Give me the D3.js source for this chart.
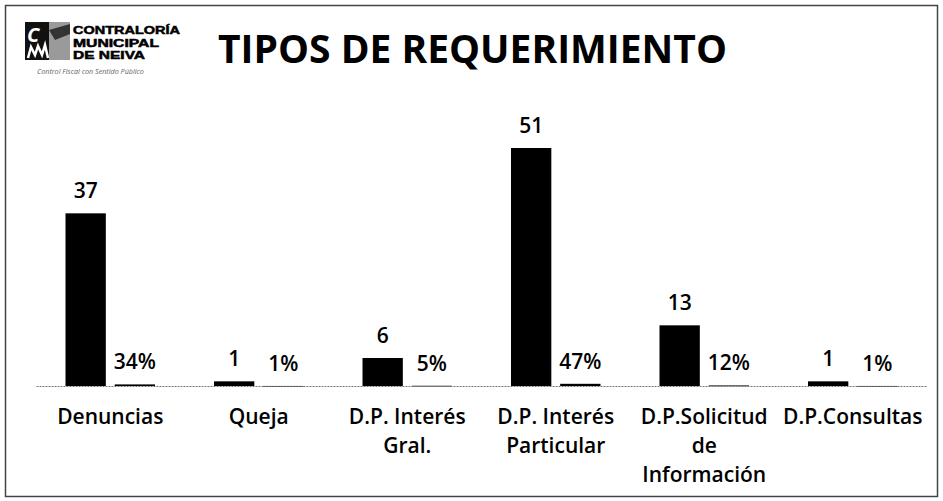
<!DOCTYPE html>
<html>
<head>
<meta charset="utf-8">
<script src="https://cdn.jsdelivr.net/npm/d3@7"></script>
<style>
  body { margin: 0; background: #fff; }
  svg { display: block; }
</style>
</head>
<body>
<script>
// data
const categories = [
  ["Denuncias"],
  ["Queja"],
  ["D.P. Interés", "Gral."],
  ["D.P. Interés", "Particular"],
  ["D.P.Solicitud", "de", "Información"],
  ["D.P.Consultas"]
];
const counts = [37, 1, 6, 51, 13, 1];
const shares = [0.34, 0.01, 0.05, 0.47, 0.12, 0.01];
const series = ["count", "share"];

const w = 943;
const h = 501;
const font = "'Open Sans', 'DejaVu Sans', sans-serif";

const svg = d3.select("body").append("svg").attr("width", w).attr("height", h);

svg.append("rect").attr("width", w).attr("height", h).attr("fill", "#fff");

// frame
svg
  .append("rect")
  .attr("x", 5.5)
  .attr("y", 5.5)
  .attr("width", 932)
  .attr("height", 491)
  .attr("fill", "none")
  .attr("stroke", "#444")
  .attr("stroke-width", 1.5);

// logo
const logo = svg.append("g");
logo.append("rect").attr("x", 25).attr("y", 22).attr("width", 24).attr("height", 38).attr("fill", "#111");
logo.append("rect").attr("x", 49).attr("y", 22).attr("width", 21).attr("height", 38).attr("fill", "#9a9a9a");
logo.append("path").attr("d", "M49,30 L70,24 L70,34 L55,40 Z").attr("fill", "#333");
logo
  .append("text")
  .attr("x", 27)
  .attr("y", 42)
  .attr("font-family", font)
  .attr("font-style", "italic")
  .attr("font-weight", 700)
  .attr("font-size", 20)
  .attr("fill", "#fff")
  .text("C");
logo
  .append("path")
  .attr("d", "M28,58 L31,47 L35,55 L38,46 L42,55 L45,45 L48,58")
  .attr("fill", "none")
  .attr("stroke", "#fff")
  .attr("stroke-width", 2.5);

// brand lines, tight like the printed logo
const brand = logo
  .append("text")
  .attr("font-family", "'Liberation Sans', Arial, sans-serif")
  .attr("font-weight", 700)
  .attr("font-size", 10.8)
  .attr("fill", "#000")
  .attr("stroke", "#000")
  .attr("stroke-width", 0.5);
[["CONTRALORÍA", 107], ["MUNICIPAL", 86], ["DE NEIVA", 72]].forEach(([line, len], i) => {
  brand
    .append("tspan")
    .attr("x", 73)
    .attr("y", 34 + i * 12.6)
    .attr("textLength", len)
    .attr("lengthAdjust", "spacingAndGlyphs")
    .text(line);
});

logo
  .append("text")
  .attr("x", 37)
  .attr("y", 74)
  .attr("font-family", font)
  .attr("font-size", 7.2)
  .attr("font-style", "italic")
  .attr("fill", "#666")
  .text("Control Fiscal con Sentido Público");

// title
svg
  .append("text")
  .attr("x", 218)
  .attr("y", 63)
  .attr("font-family", font)
  .attr("font-weight", 700)
  .attr("font-size", 39)
  .attr("fill", "#000")
  .text("TIPOS DE REQUERIMIENTO");

// scales
const x0 = d3.scaleBand().domain(d3.range(categories.length)).range([36, 927]).padding(0);
const x1 = d3.scaleBand().domain(series).range([0, x0.bandwidth()]).paddingInner(0.18).paddingOuter(0.6);
const y = d3.scaleLinear().domain([0, 60]).range([386, 106]);

const rows = counts.map((c, i) => ({ i, count: c, share: shares[i] }));

const groups = svg
  .selectAll("g.cat")
  .data(rows)
  .join("g")
  .attr("class", "cat")
  .attr("transform", d => `translate(${x0(d.i)},0)`);

groups
  .selectAll("rect")
  .data(d => series.map(s => ({ s, v: d[s] })))
  .join("rect")
  .attr("x", d => x1(d.s))
  .attr("y", d => y(d.v))
  .attr("width", x1.bandwidth())
  .attr("height", d => Math.max(y(0) - y(d.v), 0.8))
  .attr("fill", "#000");

groups
  .selectAll("text.val")
  .data(d => series.map(s => ({ s, v: d[s] })))
  .join("text")
  .attr("class", "val")
  .attr("x", d => x1(d.s) + x1.bandwidth() / 2)
  .attr("y", d => y(d.v) - 15)
  .attr("text-anchor", "middle")
  .attr("font-family", font)
  .attr("font-size", 21)
  .attr("font-weight", 600)
  .attr("fill", "#000")
  .text(d => (d.s === "share" ? d3.format(".0%")(d.v) : d.v));

// category axis
const axis = svg
  .append("g")
  .attr("transform", `translate(0,${y(0)})`)
  .call(d3.axisBottom(x0).tickSize(0).tickSizeOuter(0).tickFormat(""));

axis.select(".domain").attr("stroke", "#777").attr("stroke-width", 1).attr("stroke-dasharray", "2,1");

axis
  .selectAll(".tick text")
  .attr("y", 0)
  .attr("dy", 0)
  .attr("font-family", font)
  .attr("font-size", 21)
  .attr("font-weight", 600)
  .attr("fill", "#000")
  .each(function (d) {
    const t = d3.select(this);
    categories[d].forEach((line, k) => {
      t.append("tspan").attr("x", 0).attr("y", 38 + k * 29).text(line);
    });
  });
</script>
</body>
</html>
